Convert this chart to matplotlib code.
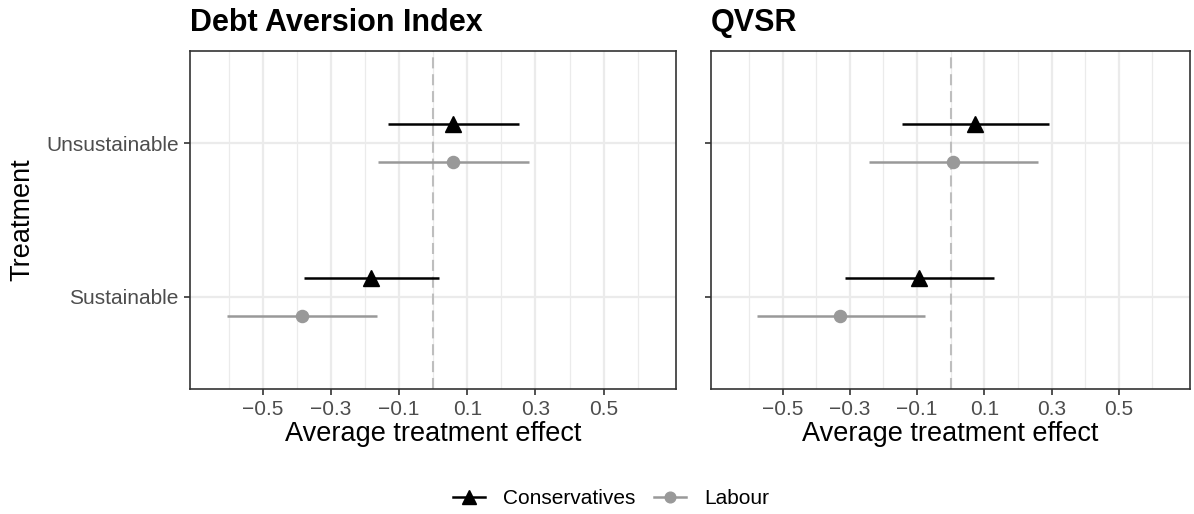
import matplotlib
matplotlib.use("Agg")
import matplotlib.pyplot as plt
from matplotlib.lines import Line2D

plt.rcParams['font.family'] = ['Liberation Sans', 'DejaVu Sans']

panels = ["Debt Aversion Index", "QVSR"]
treatments = ["Sustainable", "Unsustainable"]
parties = ["Conservatives", "Labour"]

# estimates and 95% intervals, per panel -> party -> [Sustainable, Unsustainable]
est = {
    "Debt Aversion Index": {"Conservatives": [-0.183, 0.059], "Labour": [-0.386, 0.059]},
    "QVSR": {"Conservatives": [-0.094, 0.072], "Labour": [-0.328, 0.006]},
}
lo = {
    "Debt Aversion Index": {"Conservatives": [-0.378, -0.133], "Labour": [-0.604, -0.163]},
    "QVSR": {"Conservatives": [-0.315, -0.146], "Labour": [-0.577, -0.243]},
}
hi = {
    "Debt Aversion Index": {"Conservatives": [0.016, 0.252], "Labour": [-0.166, 0.280]},
    "QVSR": {"Conservatives": [0.130, 0.292], "Labour": [-0.077, 0.260]},
}
xticks = [-0.5, -0.3, -0.1, 0.1, 0.3, 0.5]

colors = {"Conservatives": "black", "Labour": "#999999"}
markers = {"Conservatives": "^", "Labour": "o"}
msize = {"Conservatives": 11, "Labour": 8.7}
offset = {"Conservatives": 0.125, "Labour": -0.125}

fig = plt.figure(figsize=(11.94, 5.14), dpi=100)
W, H = 1194, 514
axes = [fig.add_axes([190 / W, 1 - 389.3 / H, 486 / W, 338.6 / H]),
        fig.add_axes([711 / W, 1 - 389.3 / H, 479 / W, 338.6 / H])]

for ax, panel in zip(axes, panels):
    for x in [-0.6, -0.4, -0.2, 0.0, 0.2, 0.4, 0.6]:
        ax.axvline(x, color="#EBEBEB", lw=0.9, zorder=0)
    for x in xticks:
        ax.axvline(x, color="#EBEBEB", lw=1.6, zorder=0)
    for y in [1, 2]:
        ax.axhline(y, color="#EBEBEB", lw=1.6, zorder=0)
    ax.axvline(0, color="#BEBEBE", lw=1.5, ls=(0, (5.3, 2.8)), zorder=1)
    for p in parties:
        ys = [i + 1 + offset[p] for i in range(len(treatments))]
        ax.hlines(ys, lo[panel][p], hi[panel][p], color=colors[p], lw=1.8, zorder=2)
        ax.plot(est[panel][p], ys, ls="none", marker=markers[p], ms=msize[p],
                color=colors[p], zorder=3)
    ax.set_xlim(-0.713, 0.712)
    ax.set_ylim(0.4, 2.6)
    ax.set_xticks(xticks)
    ax.set_xticklabels(["\u22120.5", "\u22120.3", "\u22120.1", "0.1", "0.3", "0.5"])
    ax.set_yticks([1, 2])
    ax.tick_params(colors="#333333", labelcolor="#4D4D4D", labelsize=15, length=4, width=1.2, pad=4)
    for s in ax.spines.values():
        s.set_color("#333333")
        s.set_linewidth(1.2)
    ax.set_xlabel("Average treatment effect", fontsize=19.5, labelpad=1)
    ax.set_title(panel, loc="left", fontsize=22, fontweight="bold", pad=14)

axes[0].set_yticklabels(treatments)
axes[1].set_yticklabels([])
axes[0].set_ylabel("Treatment", fontsize=19.5, labelpad=8)

handles = [Line2D([], [], color=colors[p], marker=markers[p], ms=msize[p] - 1, lw=1.8) for p in parties]
fig.legend(handles, parties, loc="center", bbox_to_anchor=(0.5 + 14 / W, 1 - 499 / H), ncol=2,
           frameon=False, fontsize=15, handlelength=1.55, columnspacing=0.9, handletextpad=0.85)

fig.savefig("out.png", dpi=100)
